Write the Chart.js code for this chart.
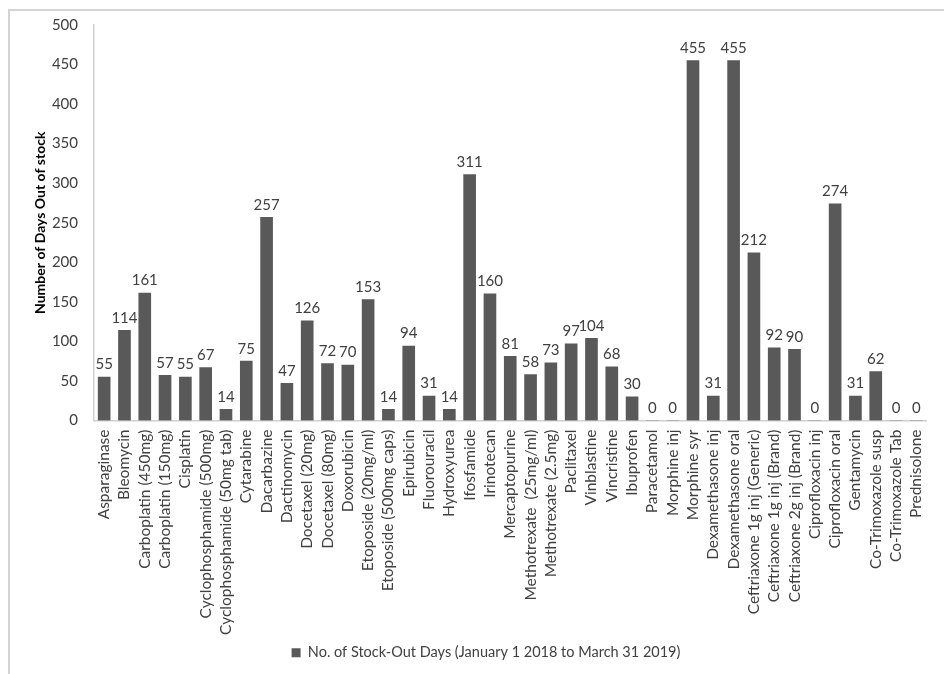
<!DOCTYPE html>
<html lang="en">
<head>
    <meta charset="UTF-8">
    <title>Stock-Out Days</title>
    <script src="https://cdn.jsdelivr.net/npm/chart.js"></script>
    <style>
        body { margin: 0; background: #fff; }
        #frame { position: absolute; left: 8px; top: 9px; width: 940px; height: 670px;
                 border-top: 2px solid #d4d4d4; border-left: 2px solid #d4d4d4; }
        #wrap { position: absolute; left: 0; top: 0; width: 944px; height: 674px; }
    </style>
</head>
<body>
    <div id="frame"></div>
    <div id="wrap"><canvas id="stockChart"></canvas></div>
    <script>
        const drugs = [
            'Asparaginase', 'Bleomycin', 'Carboplatin (450mg)', 'Carboplatin (150mg)', 'Cisplatin',
            'Cyclophosphamide (500mg)', 'Cyclophosphamide (50mg tab)', 'Cytarabine', 'Dacarbazine',
            'Dactinomycin', 'Docetaxel (20mg)', 'Docetaxel (80mg)', 'Doxorubicin', 'Etoposide (20mg/ml)',
            'Etoposide (500mg caps)', 'Epirubicin', 'Fluorouracil', 'Hydroxyurea', 'Ifosfamide',
            'Irinotecan', 'Mercaptopurine', 'Methotrexate  (25mg/ml)', 'Methotrexate (2.5mg)',
            'Paclitaxel', 'Vinblastine', 'Vincristine', 'Ibuprofen', 'Paracetamol', 'Morphine inj',
            'Morphine syr', 'Dexamethasone inj', 'Dexamethasone oral', 'Ceftriaxone 1g inj (Generic)',
            'Ceftriaxone 1g inj (Brand)', 'Ceftriaxone 2g inj (Brand)', 'Ciprofloxacin inj',
            'Ciprofloxacin oral', 'Gentamycin', 'Co-Trimoxazole susp', 'Co-Trimoxazole Tab', 'Prednisolone'
        ];
        const stockOutDays = [
            55, 114, 161, 57, 55, 67, 14, 75, 257, 47, 126, 72, 70, 153, 14, 94, 31, 14, 311, 160,
            81, 58, 73, 97, 104, 68, 30, 0, 0, 455, 31, 455, 212, 92, 90, 0, 274, 31, 62, 0, 0
        ];
        const seriesName = 'No. of Stock-Out Days (January 1 2018 to March 31 2019)';
        const yTicks = [0, 50, 100, 150, 200, 250, 300, 350, 400, 450, 500];

        const textColor = '#404040';
        const fontFamily = 'Lato, "Open Sans", sans-serif';

        // draws the value above each bar
        const valueLabels = {
            id: 'valueLabels',
            afterDatasetsDraw(chart) {
                const ctx = chart.ctx;
                const meta = chart.getDatasetMeta(0);
                ctx.save();
                ctx.font = '15px ' + fontFamily;
                ctx.fillStyle = textColor;
                ctx.textAlign = 'center';
                ctx.textBaseline = 'bottom';
                meta.data.forEach((bar, i) => {
                    ctx.fillText(String(chart.data.datasets[0].data[i]), bar.x, bar.y - 5);
                });
                ctx.restore();
            }
        };

        new Chart(document.getElementById('stockChart'), {
            type: 'bar',
            data: {
                labels: drugs,
                datasets: [{
                    label: seriesName,
                    data: stockOutDays,
                    backgroundColor: '#595959',
                    barThickness: 12
                }]
            },
            plugins: [valueLabels],
            options: {
                responsive: true,
                maintainAspectRatio: false,
                animation: false,
                layout: { padding: { top: 24, right: 4, bottom: 4, left: 32 } },
                plugins: {
                    tooltip: { enabled: false },
                    legend: {
                        position: 'bottom',
                        labels: {
                            color: textColor,
                            font: { family: fontFamily, size: 14.5 },
                            boxWidth: 9,
                            boxHeight: 9,
                            padding: 8
                        }
                    }
                },
                scales: {
                    x: {
                        grid: { display: false, drawTicks: false },
                        border: { color: '#d0d0d0', width: 1.5 },
                        ticks: {
                            color: textColor,
                            font: { family: fontFamily, size: 15.5 },
                            maxRotation: 90,
                            minRotation: 90,
                            autoSkip: false,
                            padding: 9
                        },
                        afterFit(scale) { scale.height = 217; }
                    },
                    y: {
                        min: 0,
                        max: 500,
                        afterBuildTicks(scale) { scale.ticks = yTicks.map(v => ({ value: v })); },
                        grid: { display: false, drawTicks: false },
                        border: { color: '#d0d0d0', width: 1.5 },
                        ticks: {
                            color: textColor,
                            font: { family: fontFamily, size: 15 },
                            padding: 16
                        },
                        title: {
                            display: true,
                            text: 'Number of Days Out of stock',
                            color: '#000',
                            font: { family: fontFamily, size: 14, weight: 'bold' },
                            padding: { top: 0, bottom: 4 }
                        },
                        afterFit(scale) { scale.width = 62; }
                    }
                }
            }
        });
    </script>
</body>
</html>
